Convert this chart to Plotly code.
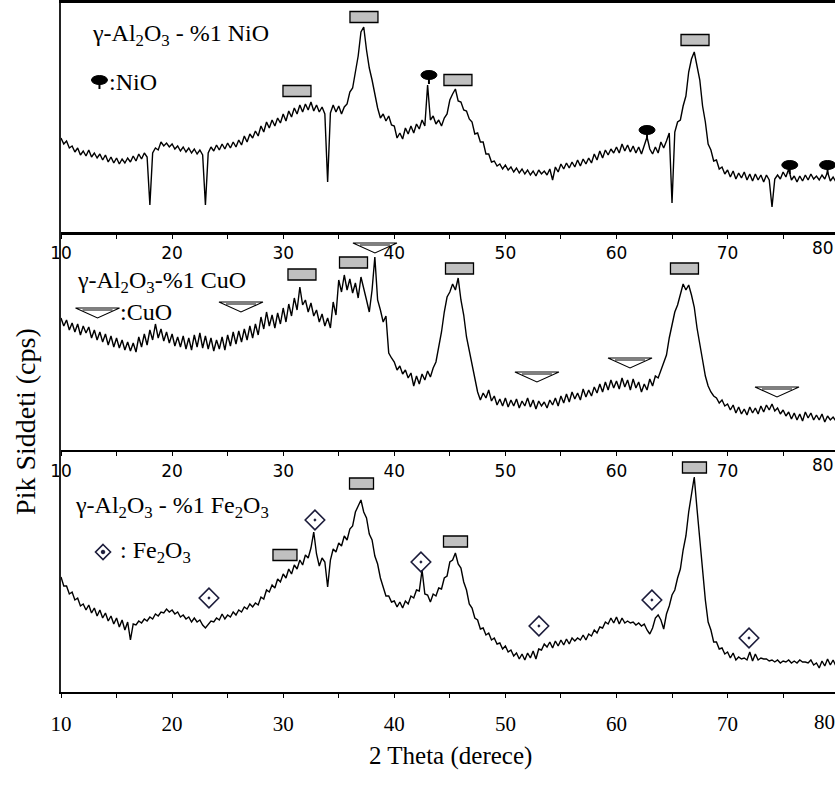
import plotly.graph_objects as go

# ---------------- data (2-theta grid 10.00 .. 79.75, step 0.25) ----------------
theta_start = 10.0
theta_step = 0.25

nio_counts = [
    94, 88, 91, 84, 86, 80, 84, 77, 81, 76, 82, 75, 79, 74, 78, 72, 77, 70, 75, 69,
    74, 68, 73, 69, 74, 70, 76, 71, 78, 73, 79, 75, 27, 79, 84, 82, 90, 86, 89, 85,
    88, 83, 86, 81, 85, 80, 84, 79, 83, 78, 82, 77, 27, 79, 85, 81, 87, 82, 88, 83,
    89, 84, 90, 85, 92, 87, 96, 90, 98, 94, 101, 96, 106, 100, 110, 104, 112, 106, 114, 109,
    118, 111, 121, 115, 124, 118, 127, 120, 128, 122, 130, 121, 127, 120, 125, 118, 50, 119, 127, 120,
    126, 118, 125, 128, 140, 144, 160, 176, 200, 205, 182, 164, 152, 136, 124, 114, 118, 111, 116, 107,
    106, 94, 99, 93, 104, 98, 106, 99, 108, 103, 112, 106, 147, 112, 116, 108, 112, 106, 114, 118,
    132, 138, 143, 131, 130, 122, 121, 113, 110, 98, 99, 90, 90, 78, 78, 70, 71, 66, 68, 63,
    67, 62, 65, 60, 64, 59, 63, 58, 62, 57, 61, 56, 62, 58, 61, 57, 63, 52, 65, 60,
    68, 63, 69, 64, 70, 65, 72, 66, 73, 68, 74, 69, 78, 72, 81, 74, 82, 77, 83, 79,
    85, 79, 88, 81, 87, 80, 86, 79, 85, 78, 86, 95, 83, 78, 85, 79, 90, 84, 91, 99,
    29, 100, 110, 112, 126, 136, 160, 173, 180, 166, 152, 126, 110, 88, 82, 71, 72, 63, 65, 58,
    62, 55, 61, 53, 59, 54, 60, 52, 58, 51, 58, 52, 57, 50, 57, 52, 25, 53, 57, 53,
    60, 55, 63, 52, 56, 50, 56, 51, 57, 52, 58, 53, 56, 52, 57, 53, 60, 51, 55, 50,
]

cuo_counts = [
    132, 124, 130, 120, 127, 118, 126, 115, 124, 117, 123, 112, 120, 110, 118, 108, 116, 105, 114, 103,
    112, 102, 110, 100, 108, 99, 107, 98, 113, 103, 116, 105, 120, 110, 126, 112, 121, 109, 118, 107,
    116, 104, 113, 103, 114, 101, 112, 100, 115, 103, 117, 102, 114, 101, 112, 99, 110, 101, 113, 100,
    115, 104, 118, 106, 119, 108, 121, 110, 124, 112, 126, 115, 133, 121, 138, 124, 135, 122, 137, 126,
    142, 128, 146, 134, 152, 140, 163, 145, 150, 138, 147, 134, 140, 128, 136, 124, 132, 122, 148, 135,
    170, 158, 175, 160, 171, 157, 167, 152, 173, 160, 150, 138, 160, 193, 150, 140, 128, 134, 97, 92,
    88, 80, 84, 76, 80, 72, 77, 64, 74, 66, 76, 70, 79, 73, 82, 88, 103, 118, 138, 153,
    158, 166, 160, 172, 150, 135, 113, 100, 87, 72, 58, 50, 57, 52, 60, 49, 54, 45, 51, 44,
    52, 43, 50, 44, 51, 42, 49, 44, 52, 43, 50, 41, 49, 44, 48, 42, 50, 45, 52, 44,
    54, 47, 56, 48, 58, 51, 57, 50, 61, 53, 60, 54, 63, 57, 66, 58, 68, 60, 70, 62,
    69, 61, 72, 63, 70, 60, 71, 62, 68, 58, 66, 60, 71, 64, 74, 72, 80, 86, 95, 112,
    127, 138, 145, 156, 166, 160, 165, 155, 143, 122, 104, 90, 74, 64, 58, 54, 52, 47, 50, 44,
    46, 40, 45, 37, 43, 36, 41, 35, 43, 37, 42, 36, 44, 38, 45, 40, 46, 39, 42, 36,
    40, 34, 38, 31, 37, 30, 36, 29, 38, 32, 37, 30, 35, 30, 36, 28, 34, 30, 33, 29,
]

fe_counts = [
    115, 106, 106, 98, 100, 92, 94, 86, 88, 82, 87, 79, 84, 76, 82, 74, 79, 71, 76, 68,
    74, 65, 72, 62, 70, 52, 68, 67, 71, 69, 73, 71, 75, 73, 78, 76, 80, 79, 83, 80,
    82, 78, 80, 75, 77, 73, 75, 70, 74, 70, 72, 67, 64, 68, 71, 70, 74, 72, 78, 73,
    77, 75, 80, 77, 82, 80, 85, 83, 88, 85, 89, 87, 95, 93, 102, 100, 107, 104, 113, 110,
    118, 114, 123, 118, 127, 123, 132, 127, 137, 134, 144, 160, 138, 126, 134, 130, 105, 132, 143, 140,
    149, 146, 156, 152, 163, 166, 180, 186, 192, 180, 174, 158, 152, 136, 128, 114, 106, 96, 96, 90,
    91, 85, 90, 84, 91, 88, 96, 94, 102, 101, 122, 98, 97, 90, 98, 96, 104, 103, 114, 116,
    130, 132, 139, 128, 124, 110, 102, 88, 84, 74, 72, 63, 64, 57, 59, 52, 54, 48, 49, 43,
    46, 40, 42, 36, 39, 33, 38, 32, 39, 34, 41, 33, 43, 42, 48, 45, 50, 44, 51, 46,
    52, 47, 53, 48, 54, 51, 54, 52, 57, 52, 58, 56, 62, 59, 65, 64, 70, 68, 74, 69,
    75, 68, 74, 69, 71, 69, 70, 67, 69, 66, 68, 62, 58, 64, 74, 77, 72, 63, 78, 86,
    97, 102, 114, 123, 142, 156, 180, 196, 215, 183, 152, 116, 92, 70, 62, 50, 50, 43, 44, 38,
    40, 34, 39, 32, 35, 33, 34, 32, 40, 31, 38, 32, 34, 33, 33, 31, 32, 30, 32, 29,
    31, 30, 32, 29, 31, 29, 32, 30, 30, 29, 32, 27, 29, 24, 31, 26, 33, 27, 32, 26,
]

two_theta = [theta_start + theta_step * i for i in range(len(nio_counts))]

# phase markers (peak positions, heights)
al_nio_x = [31.24, 37.27, 45.73, 67.07]
al_nio_y = [141, 215, 152, 192]
nio_x = [43.12, 62.75, 75.6, 79.0]
nio_y = [157, 102, 67, 67]

al_cuo_x = [31.69, 36.33, 45.87, 66.12]
al_cuo_y = [175.5, 187.5, 181.5, 181.5]
cuo_x = [26.2, 38.26, 52.84, 61.22, 74.45]
cuo_y = [138, 197, 68, 82, 53]

al_fe_x = [30.16, 37.05, 45.51, 67.02]
al_fe_y = [137, 208.5, 150.5, 224.5]
fe_x = [23.32, 32.86, 42.40, 53.02, 63.19, 71.93]
fe_y = [94, 172, 130, 66, 92, 54]

tick_vals = [10, 15, 20, 25, 30, 35, 40, 45, 50, 55, 60, 65, 70, 75]
tick_text = ["10", "", "20", "", "30", "", "40", "", "50", "", "60", "", "70", ""]

# ---------------- figure ----------------
SERIF = "Liberation Serif"
SANS = "DejaVu Sans"
X_RANGE = [10, 79.67]

fig = go.Figure()
line_style = dict(color="black", width=1.4)
fig.add_trace(go.Scatter(x=two_theta, y=nio_counts, mode="lines", line=line_style, xaxis="x", yaxis="y"))
fig.add_trace(go.Scatter(x=two_theta, y=cuo_counts, mode="lines", line=line_style, xaxis="x2", yaxis="y2"))
fig.add_trace(go.Scatter(x=two_theta, y=fe_counts, mode="lines", line=line_style, xaxis="x3", yaxis="y3"))

fig.add_trace(go.Scatter(
    x=fe_x, y=fe_y, mode="markers", xaxis="x3", yaxis="y3",
    marker=dict(symbol="diamond-open-dot", size=15, color="#1b1b3a", line=dict(width=1.6, color="#1b1b3a")),
))

shapes = []

def rect(xa, ya, xc, yc, half_w):
    shapes.append(dict(type="rect", xref=xa, yref=ya, xsizemode="pixel", ysizemode="pixel",
                       xanchor=xc, yanchor=yc, x0=-half_w, x1=half_w, y0=-5.5, y1=5.5,
                       fillcolor="#c0c0c0", line=dict(color="black", width=1.3), layer="above"))

def nio_mark(xa, ya, xc, yc):
    shapes.append(dict(type="circle", xref=xa, yref=ya, xsizemode="pixel", ysizemode="pixel",
                       xanchor=xc, yanchor=yc, x0=-8, x1=8, y0=-4.5, y1=4.5,
                       fillcolor="black", line=dict(color="black", width=1)))
    shapes.append(dict(type="line", xref=xa, yref=ya, xsizemode="pixel", ysizemode="pixel",
                       xanchor=xc, yanchor=yc, x0=0, x1=0, y0=-3, y1=-9,
                       line=dict(color="black", width=2)))

def cuo_mark(xa, ya, xc, yc):
    shapes.append(dict(type="path", xref=xa, yref=ya, xsizemode="pixel", ysizemode="pixel",
                       xanchor=xc, yanchor=yc, path="M-22,10 L22,10 L0,0 Z",
                       line=dict(color="black", width=1.1)))
    shapes.append(dict(type="path", xref=xa, yref=ya, xsizemode="pixel", ysizemode="pixel",
                       xanchor=xc, yanchor=yc, path="M-15,8 L15,8",
                       line=dict(color="black", width=1)))

for xc, yc in zip(al_nio_x, al_nio_y):
    rect("x", "y", xc, yc, 14)
for xc, yc in zip(nio_x, nio_y):
    nio_mark("x", "y", xc, yc)
for xc, yc in zip(al_cuo_x, al_cuo_y):
    rect("x2", "y2", xc, yc, 14)
for xc, yc in zip(cuo_x, cuo_y):
    cuo_mark("x2", "y2", xc, yc)
for xc, yc in zip(al_fe_x, al_fe_y):
    rect("x3", "y3", xc, yc, 12)

# legend keys (paper coordinates)
nio_mark("paper", "paper", 0.0497, 0.8882)
cuo_mark("paper", "paper", 0.0472, 0.5428)
shapes.append(dict(type="path", xref="paper", yref="paper", xsizemode="pixel", ysizemode="pixel",
                   xanchor=0.0543, yanchor=0.2032, path="M0,7.5 L7.5,0 L0,-7.5 L-7.5,0 Z",
                   line=dict(color="#1b1b3a", width=1.6)))
shapes.append(dict(type="circle", xref="paper", yref="paper", xsizemode="pixel", ysizemode="pixel",
                   xanchor=0.0543, yanchor=0.2032, x0=-1.8, x1=1.8, y0=-1.8, y1=1.8,
                   fillcolor="#1b1b3a", line=dict(color="#1b1b3a", width=1)))

fig.update_layout(shapes=shapes)

def txt(x, y, s, size=24, xanchor="left", font=SERIF, angle=0):
    return dict(x=x, y=y, xref="paper", yref="paper", text=s, showarrow=False,
                xanchor=xanchor, yanchor="middle", textangle=angle,
                font=dict(family=font, size=size, color="black"))

annotations = [
    txt(0.0375, 0.9536, "γ-Al<sub>2</sub>O<sub>3</sub> - %1 NiO"),
    txt(0.0594, 0.8853, ":NiO"),
    txt(0.0181, 0.5951, "γ-Al<sub>2</sub>O<sub>3</sub>-%1 CuO"),
    txt(0.0736, 0.5515, ":CuO"),
    txt(0.0155, 0.2685, "γ-Al<sub>2</sub>O<sub>3</sub> - %1 Fe<sub>2</sub>O<sub>3</sub>"),
    txt(0.0736, 0.2032, ": Fe<sub>2</sub>O<sub>3</sub>"),
    txt(0.9845, 0.6450, "80", size=17, xanchor="center", font=SANS),
    txt(0.9845, 0.3290, "80", size=17, xanchor="center", font=SANS),
    txt(0.9870, -0.0435, "80", size=21, xanchor="center", font=SERIF),
    txt(-0.0452, 0.392, "Pik Siddeti (cps)", size=28, xanchor="center", angle=-90),
    txt(0.5026, -0.0930, "2 Theta (derece)", size=25, xanchor="center"),
]

def xaxis(anchor, lw, font, size, standoff, mirror=False):
    return dict(anchor=anchor, range=X_RANGE, showgrid=False, zeroline=False,
                showline=True, linecolor="black", linewidth=lw, mirror=mirror,
                ticks="outside", ticklen=4, tickwidth=1.2, tickcolor="black",
                tickvals=tick_vals, ticktext=tick_text, ticklabelstandoff=standoff,
                tickfont=dict(family=font, size=size, color="black"))

def yaxis(anchor, domain, rng):
    return dict(anchor=anchor, domain=domain, range=rng, showgrid=False, zeroline=False,
                showline=True, linecolor="#222", linewidth=1.6, showticklabels=False, ticks="")

top_lo = (692 - 232) / 689
mid_lo = (692 - 450) / 689

fig.update_layout(
    width=835, height=787,
    margin=dict(l=61, r=0, t=3, b=95),
    paper_bgcolor="white", plot_bgcolor="white",
    showlegend=False,
    xaxis=xaxis("y", 2.6, SANS, 17, 0, mirror=True),
    xaxis2=xaxis("y2", 2.4, SANS, 17, 0),
    xaxis3=xaxis("y3", 1.6, SERIF, 21, 8),
    yaxis=yaxis("x", [top_lo, 1.0], [0, 229]),
    yaxis2=yaxis("x2", [mid_lo, top_lo], [0, 218]),
    yaxis3=yaxis("x3", [0.0, mid_lo], [0, 242]),
    annotations=annotations,
)

fig.write_html("out.html")
